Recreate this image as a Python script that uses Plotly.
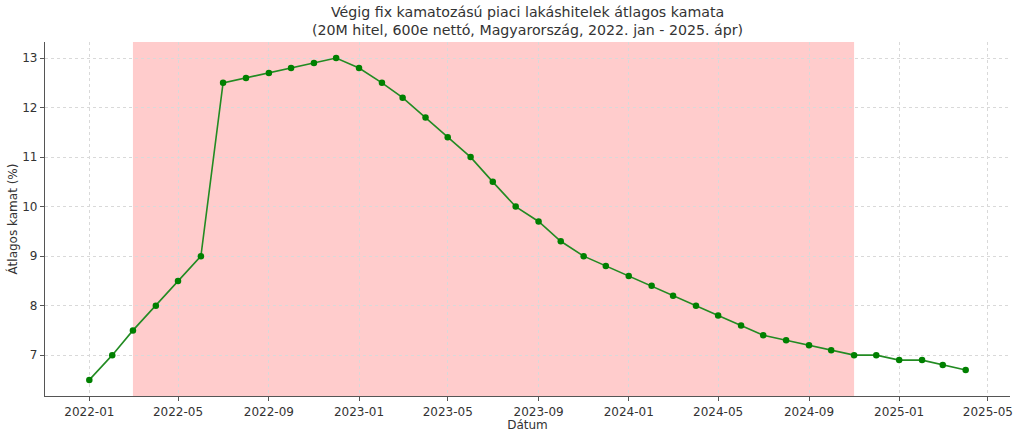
import plotly.graph_objects as go

dates = ["2022-01", "2022-02", "2022-03", "2022-04", "2022-05", "2022-06", "2022-07", "2022-08",
         "2022-09", "2022-10", "2022-11", "2022-12", "2023-01", "2023-02", "2023-03", "2023-04",
         "2023-05", "2023-06", "2023-07", "2023-08", "2023-09", "2023-10", "2023-11", "2023-12",
         "2024-01", "2024-02", "2024-03", "2024-04", "2024-05", "2024-06", "2024-07", "2024-08",
         "2024-09", "2024-10", "2024-11", "2024-12", "2025-01", "2025-02", "2025-03", "2025-04"]
rates = [6.5, 7.0, 7.5, 8.0, 8.5, 9.0, 12.5, 12.6,
         12.7, 12.8, 12.9, 13.0, 12.8, 12.5, 12.2, 11.8,
         11.4, 11.0, 10.5, 10.0, 9.7, 9.3, 9.0, 8.8,
         8.6, 8.4, 8.2, 8.0, 7.8, 7.6, 7.4, 7.3,
         7.2, 7.1, 7.0, 7.0, 6.9, 6.9, 6.8, 6.7]
shade_start = "2022-03-01"
shade_end = "2024-11-01"
title_text = ("Végig fix kamatozású piaci lakáshitelek átlagos kamata<br>"
              "(20M hitel, 600e nettó, Magyarország, 2022. jan - 2025. ápr)")

x = [d + "-01" for d in dates]

fig = go.Figure()
fig.add_trace(go.Scatter(
    x=x, y=rates, mode="lines+markers",
    line=dict(color="#228B22", width=1.6),
    marker=dict(color="#008000", size=6.5),
    showlegend=False,
))

fig.add_shape(type="rect", xref="x", yref="paper",
              x0=shade_start, x1=shade_end, y0=0, y1=1,
              fillcolor="rgba(255,0,0,0.2)", line=dict(width=0), layer="below")

fig.add_annotation(text=title_text, xref="paper", yref="paper", x=0.5, y=1,
                   xanchor="center", yanchor="bottom", yshift=2, showarrow=False,
                   font=dict(size=14.2, color="#333333"))

font = "DejaVu Sans, sans-serif"
fig.update_layout(
    width=1024, height=438,
    margin=dict(l=45, r=14, t=42, b=42, autoexpand=False),
    paper_bgcolor="white", plot_bgcolor="white",
    font=dict(family=font, size=12, color="#333333"),
)
grid = dict(showgrid=True, gridcolor="#d9d9d9", griddash="dot", gridwidth=1,
            showline=True, linecolor="#555555", linewidth=1.2,
            ticks="outside", ticklen=4, tickcolor="#555555", zeroline=False,
            automargin=False, tickfont=dict(size=12))
fig.update_xaxes(
    range=["2021-11-02", "2025-05-31"],
    tick0="2022-01-01", dtick="M4", tickformat="%Y-%m",
    title=dict(text="Dátum", standoff=0, font=dict(size=12)),
    **grid,
)
fig.update_yaxes(
    range=[6.175, 13.325], dtick=1,
    title=dict(text="Átlagos kamat (%)", standoff=2, font=dict(size=12)),
    **grid,
)

fig.write_html("out.html", config={"displayModeBar": False},
               post_script="document.body.style.margin='0';")
